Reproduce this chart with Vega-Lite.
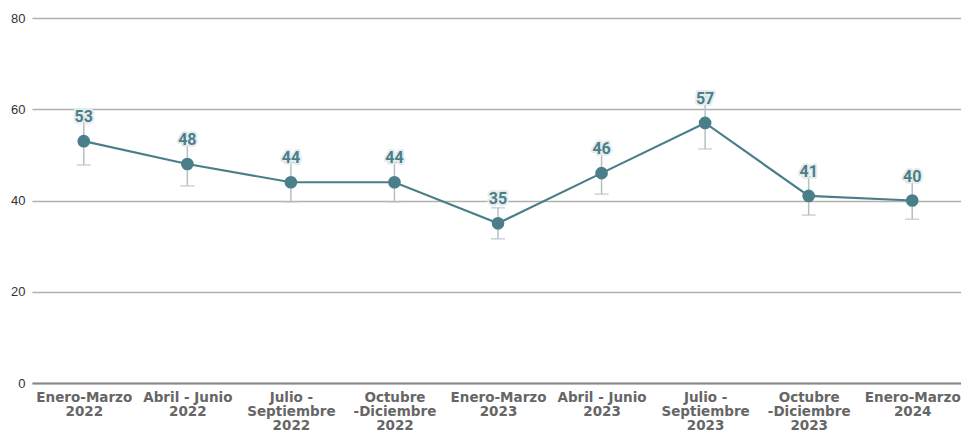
{
  "$schema": "https://vega.github.io/schema/vega-lite/v6.json",
  "autosize": "none",
  "width": 932,
  "height": 365,
  "padding": {"left": 32, "top": 18, "right": 0, "bottom": 49},
  "background": "white",
  "config": {"view": {"stroke": null}},
  "data": {"values": [
    {"periodo": "Enero-Marzo|2022", "valor": 53, "bajo": 47.8, "alto": 58.2},
    {"periodo": "Abril - Junio|2022", "valor": 48, "bajo": 43.2, "alto": 52.8},
    {"periodo": "Julio -|Septiembre|2022", "valor": 44, "bajo": 39.7, "alto": 48.3},
    {"periodo": "Octubre|-Diciembre|2022", "valor": 44, "bajo": 39.7, "alto": 48.3},
    {"periodo": "Enero-Marzo|2023", "valor": 35, "bajo": 31.6, "alto": 38.4},
    {"periodo": "Abril - Junio|2023", "valor": 46, "bajo": 41.4, "alto": 50.6},
    {"periodo": "Julio -|Septiembre|2023", "valor": 57, "bajo": 51.3, "alto": 62.7},
    {"periodo": "Octubre|-Diciembre|2023", "valor": 41, "bajo": 36.8, "alto": 45.2},
    {"periodo": "Enero-Marzo|2024", "valor": 40, "bajo": 35.9, "alto": 44.1}
  ]},
  "encoding": {
    "x": {
      "field": "periodo", "type": "nominal", "sort": null,
      "scale": {"type": "point", "padding": 0.5},
      "axis": {
        "title": null, "labelAngle": 0,
        "labelExpr": "split(datum.label, '|')",
        "labelFont": "DejaVu Sans", "labelFontWeight": "bold", "labelFontSize": 13.5,
        "labelColor": "#666666", "labelLineHeight": 14, "labelPadding": 7,
        "ticks": false, "domainColor": "#888888", "domainWidth": 2,
        "grid": false
      }
    }
  },
  "layer": [
    {
      "mark": {"type": "rule", "color": "#b5c0c4", "strokeWidth": 1.5},
      "encoding": {
        "y": {"field": "bajo", "type": "quantitative",
          "scale": {"domain": [0, 80]},
          "axis": {"title": null, "values": [0, 20, 40, 60, 80], "grid": true, "gridColor": "#b0b0b0", "gridWidth": 1.5,
            "domain": false, "ticks": false, "labelFont": "Liberation Sans", "labelFontSize": 13, "labelColor": "#333333", "labelPadding": 7}},
        "y2": {"field": "alto"}
      }
    },
    {
      "mark": {"type": "tick", "color": "#b5c0c4", "thickness": 1.5, "size": 14, "orient": "horizontal"},
      "encoding": {"y": {"field": "bajo", "type": "quantitative"}}
    },
    {
      "mark": {"type": "tick", "color": "#b5c0c4", "thickness": 1.5, "size": 14, "orient": "horizontal"},
      "encoding": {"y": {"field": "alto", "type": "quantitative"}}
    },
    {
      "mark": {"type": "line", "color": "#4a7f8a", "strokeWidth": 2.2},
      "encoding": {"y": {"field": "valor", "type": "quantitative"}}
    },
    {
      "mark": {"type": "circle", "color": "#4a7f8a", "opacity": 1, "size": 160},
      "encoding": {"y": {"field": "valor", "type": "quantitative"}}
    },
    {
      "mark": {"type": "text", "dy": -24, "font": "Roboto", "fontWeight": "bold", "fontSize": 16, "fill": "white", "stroke": "#e6eced", "strokeWidth": 4, "strokeJoin": "round"},
      "encoding": {"y": {"field": "valor", "type": "quantitative"}, "text": {"field": "valor", "type": "quantitative"}}
    },
    {
      "mark": {"type": "text", "dy": -24, "font": "Roboto", "fontWeight": "bold", "fontSize": 16, "fill": "#4a7f8a"},
      "encoding": {"y": {"field": "valor", "type": "quantitative"}, "text": {"field": "valor", "type": "quantitative"}}
    }
  ]
}
